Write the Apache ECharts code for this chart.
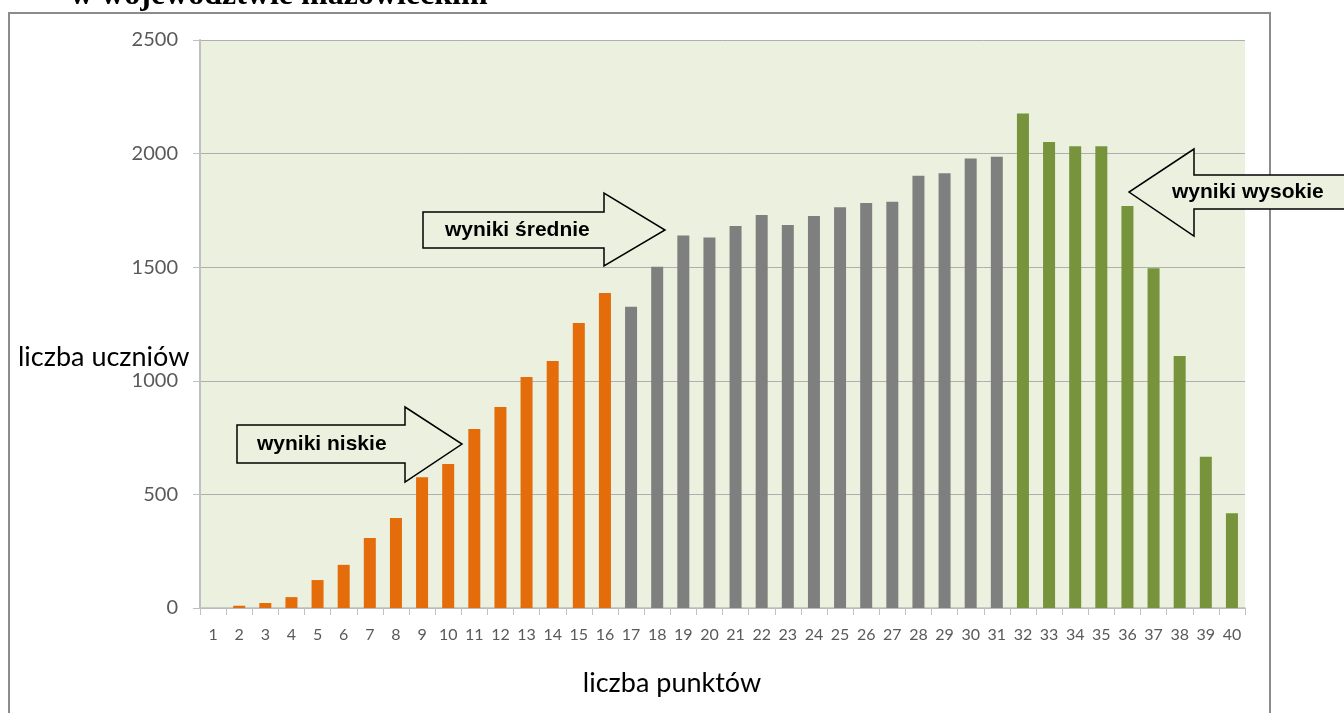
<!DOCTYPE html>
<html>
  <head>
      <meta charset="utf-8">
      <script src="https://cdn.jsdelivr.net/npm/echarts@6/dist/echarts.min.js"></script>
  </head>
<body style="margin:0;background:#fff;">
    <div id="main" style="width: 1344px;height:713px;"></div>
    <script type="text/javascript">
        // liczba punktow 1..40
        var punkty = ['1','2','3','4','5','6','7','8','9','10','11','12','13','14','15','16','17','18','19','20',
                      '21','22','23','24','25','26','27','28','29','30','31','32','33','34','35','36','37','38','39','40'];

        // wyniki niskie: 1-16
        var niskie = [0, 10, 22, 48, 123, 190, 308, 396, 576, 634, 788, 885, 1017, 1087, 1254, 1386];
        // wyniki srednie: 17-31
        var srednie = [1326, 1502, 1639, 1631, 1681, 1730, 1686, 1725, 1764, 1783, 1788, 1903, 1913, 1978, 1986];
        // wyniki wysokie: 32-40
        var wysokie = [2177, 2051, 2032, 2032, 1769, 1495, 1109, 666, 417];

        var kolory = { niskie: '#E46C0A', srednie: '#7F7F7F', wysokie: '#77933C' };

        var dane = [];
        niskie.forEach(function (v) { dane.push({ value: v, itemStyle: { color: kolory.niskie } }); });
        srednie.forEach(function (v) { dane.push({ value: v, itemStyle: { color: kolory.srednie } }); });
        wysokie.forEach(function (v) { dane.push({ value: v, itemStyle: { color: kolory.wysokie } }); });

        // strzalka: koniec korpusu, gora/dol korpusu, podstawa grota, gora/dol grota, czubek
        function strzalka(koniec, bt, bb, hb, ht, hbot, tip, ty) {
            return [[koniec, bt], [hb, bt], [hb, ht], [tip, ty], [hb, hbot], [hb, bb], [koniec, bb]];
        }

        var strzalkaStyl = { fill: '#EBF1DE', stroke: '#000', lineWidth: 1.5 };
        function napis(tekst) {
            return {
                text: tekst, fill: '#000', fontFamily: '"Liberation Sans", Arial, sans-serif',
                fontWeight: 'bold', fontSize: 21, verticalAlign: 'middle'
            };
        }

        var myChart = echarts.init(document.getElementById('main'));
        myChart.setOption({
            animation: false,
            backgroundColor: '#fff',
            grid: {
                left: 200, right: 99, top: 40, bottom: 105,
                show: true, backgroundColor: '#EBF1DE', borderWidth: 0
            },
            xAxis: {
                type: 'category',
                data: punkty,
                axisLine: { lineStyle: { color: '#BFBFBF', width: 1.5 } },
                axisTick: { show: true, length: 7, lineStyle: { color: '#BFBFBF' } },
                axisLabel: { interval: 0, margin: 19, fontFamily: 'Lato', fontSize: 16, color: '#595959' }
            },
            yAxis: {
                type: 'value',
                min: 0, max: 2500, interval: 500,
                axisLine: { show: true, lineStyle: { color: '#BFBFBF', width: 2 } },
                axisTick: { show: true, length: 7, lineStyle: { color: '#BFBFBF' } },
                splitLine: { lineStyle: { color: '#AFAFAF', width: 1 } },
                axisLabel: {
                    margin: 22, fontFamily: 'Lato', fontSize: 20, color: '#595959',
                    formatter: function (v) { return String(v); }
                }
            },
            graphic: [
                {
                    type: 'rect', z: -10, silent: true,
                    shape: { x: 9, y: 13, width: 1261, height: 760 },
                    style: { fill: 'none', stroke: '#8C8C8C', lineWidth: 2 }
                },
                {
                    type: 'text', x: 70, y: -4,
                    style: {
                        text: 'w województwie mazowieckim', fill: '#000', verticalAlign: 'middle',
                        fontFamily: '"Liberation Serif", "Times New Roman", serif', fontWeight: 'bold', fontSize: 32
                    }
                },
                {
                    type: 'text', x: 18, y: 357,
                    style: { text: 'liczba uczniów', fill: '#000', fontFamily: 'Lato', fontSize: 27, verticalAlign: 'middle' }
                },
                {
                    type: 'text', x: 672, y: 683,
                    style: { text: 'liczba punktów', fill: '#000', fontFamily: 'Lato', fontSize: 27, align: 'center', verticalAlign: 'middle' }
                },
                {
                    type: 'polygon', z: 100,
                    shape: { points: strzalka(237, 425, 463, 405, 407, 482, 462, 444) },
                    style: strzalkaStyl
                },
                { type: 'text', z: 101, x: 257, y: 444, style: napis('wyniki niskie') },
                {
                    type: 'polygon', z: 100,
                    shape: { points: strzalka(423, 212, 248, 604, 193, 266, 665, 230) },
                    style: strzalkaStyl
                },
                { type: 'text', z: 101, x: 445, y: 230, style: napis('wyniki średnie') },
                {
                    type: 'polygon', z: 100,
                    shape: { points: strzalka(1352, 175, 209, 1194, 149, 236, 1129, 192) },
                    style: strzalkaStyl
                },
                { type: 'text', z: 101, x: 1172, y: 192, style: napis('wyniki wysokie') }
            ],
            series: [
                {
                    type: 'bar',
                    barWidth: 12,
                    data: dane
                }
            ]
        });
    </script>
</body>
</html>
